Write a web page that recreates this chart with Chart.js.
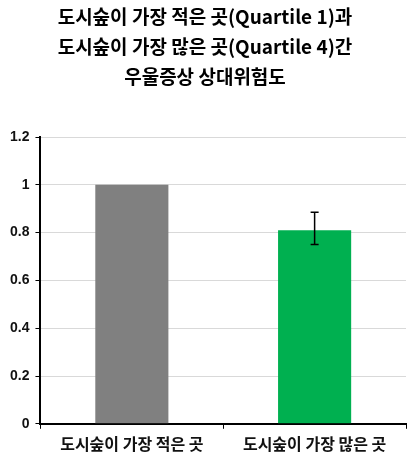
<!DOCTYPE html>
<html><head><meta charset="utf-8">
<script src="https://cdn.jsdelivr.net/npm/chart.js@4"></script>
<style>body{margin:0;background:#fff}#w{width:414px;height:464px}</style>
</head><body><div id="w"><canvas id="c"></canvas></div>
<script>
const categories = ['도시숲이 가장 적은 곳', '도시숲이 가장 많은 곳'];
const values = [1.0, 0.81];
const errLow = [null, 0.75];
const errHigh = [null, 0.885];
const colors = ['#808080', '#00b050'];
const titleLines = ['도시숲이 가장 적은 곳(Quartile 1)과', '도시숲이 가장 많은 곳(Quartile 4)간', '우울증상 상대위험도'];
const F = "'Noto Sans CJK KR', sans-serif";
const errPlugin = {id:'err', afterDatasetsDraw(ch){
  const {ctx, scales:{x,y}} = ch;
  ctx.save(); ctx.strokeStyle='#000'; ctx.lineWidth=1.5;
  errLow.forEach((lo,i)=>{ if(lo==null) return;
    const cx=x.getPixelForValue(i), y1=y.getPixelForValue(lo), y2=y.getPixelForValue(errHigh[i]);
    ctx.beginPath(); ctx.moveTo(cx,y1); ctx.lineTo(cx,y2);
    ctx.moveTo(cx-4,y1); ctx.lineTo(cx+4,y1); ctx.moveTo(cx-4,y2); ctx.lineTo(cx+4,y2); ctx.stroke();
  }); ctx.restore();
}};
new Chart(document.getElementById('c'), {
  type:'bar',
  data:{labels:categories, datasets:[{data:values, backgroundColor:colors, barPercentage:0.4, categoryPercentage:1}]},
  options:{responsive:true, maintainAspectRatio:false, animation:false,
    layout:{padding:{left:4,right:8,top:0,bottom:4}},
    plugins:{legend:{display:false}, tooltip:{enabled:false},
      title:{display:true, text:titleLines, color:'#000', font:{family:F, size:19, weight:'bold', lineHeight:1.58}, padding:{top:2,bottom:45}}},
    scales:{
      y:{min:0,max:1.2, ticks:{stepSize:0.2, color:'#111', font:{family:"Arial", size:14, weight:'bold'}, callback:v=>Math.round(v*10)/10, padding:6},
        grid:{color:'#d9d9d9', drawTicks:true, tickLength:5, tickColor:'#000'}, border:{color:'#000', width:2}},
      x:{ticks:{color:'#111', font:{family:F, size:16, weight:'bold'}, padding:6},
        grid:{display:true, drawOnChartArea:false, offset:true, tickLength:5, tickColor:'#000'}, border:{color:'#000', width:2}}
    }},
  plugins:[errPlugin]
});
</script></body></html>
